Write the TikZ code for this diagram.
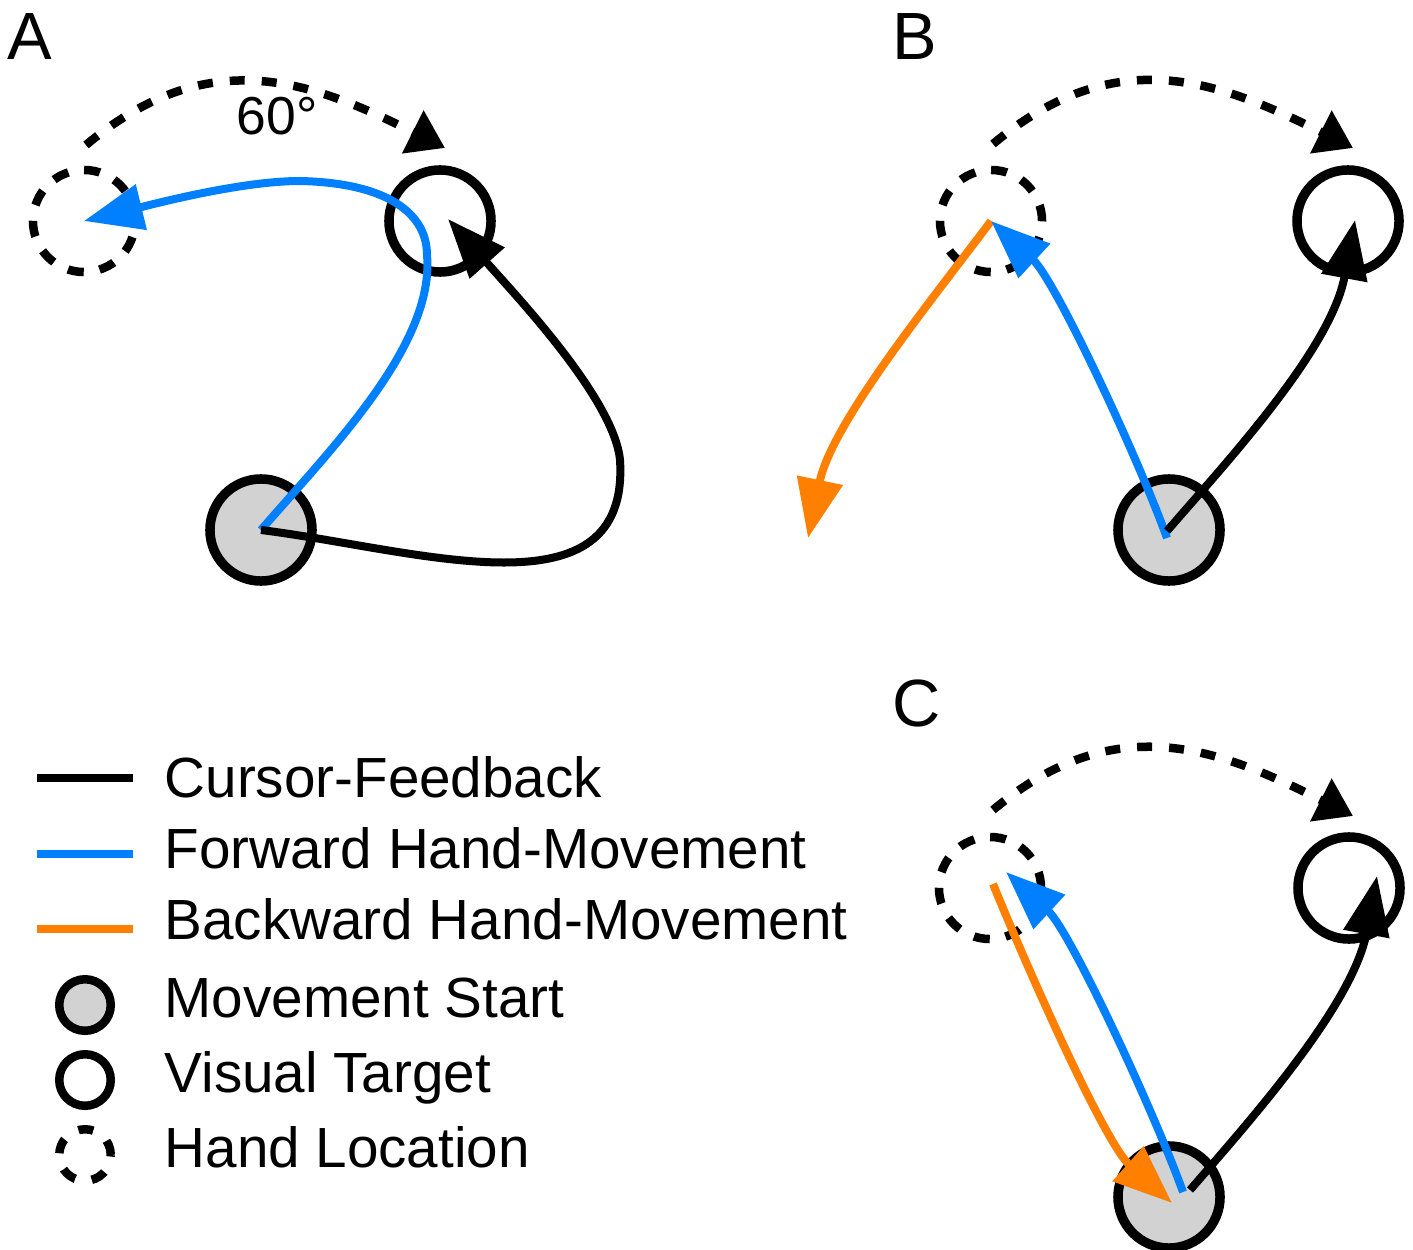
\documentclass[tikz,border=0pt]{standalone}
\usepackage{fontspec}
\setmainfont{Liberation Sans}
\usetikzlibrary{arrows.meta,calc}
\definecolor{fwdblue}{RGB}{0,128,255}
\definecolor{bwdorange}{RGB}{255,128,0}
\definecolor{startgray}{RGB}{210,210,210}
\begin{document}
\begin{tikzpicture}[x=0.01cm, y=-0.01cm,
  ring/.style={circle, draw=black, line width=0.095cm, minimum size=1.02cm, inner sep=0pt, outer sep=0pt},
  startpt/.style={ring, fill=startgray},
  targetpt/.style={ring},
  handpt/.style={ring, line width=0.085cm, dash pattern=on 0.16cm off 0.16cm},
  tipbig/.style={-{Triangle[length=0.59cm, width=0.45cm]}},
  cursor/.style={draw=black, line width=0.08cm, tipbig},
  fwd/.style={draw=fwdblue, line width=0.08cm, tipbig},
  bwd/.style={draw=bwdorange, line width=0.08cm, tipbig},
  rotarc/.style={draw=black, line width=0.085cm, dash pattern=on 0.15cm off 0.17cm,
    -{Triangle[length=0.36cm, width=0.46cm]}},
  panellabel/.style={font=\fontsize{19}{23}\selectfont, anchor=base west, inner sep=0pt},
  angletext/.style={font=\fontsize{15.2}{18}\selectfont, anchor=base west, inner sep=0pt},
  legtext/.style={font=\fontsize{16.1}{19}\selectfont, anchor=base west, inner sep=0pt},
  legline/.style={line width=0.085cm},
  legring/.style={circle, draw=black, line width=0.085cm, minimum size=0.515cm, inner sep=0pt}
]
\useasboundingbox (0,0) rectangle (1413,1249);

% ---------- Panel A: rotated feedback, hand curls back to the target ----------
\node[panellabel] (labA) at (7,60) {A};
\node[handpt]   (Ah) at (84,221) {};
\node[targetpt] (At) at (440,221) {};
\node[startpt]  (As) at (261,530) {};
\draw[rotarc] ($(Ah.center)+(2,-76)$) .. controls +(123,-103) and +(-134,-67) .. ($(At.center)+(5,-73)$);
\node[angletext] (angA) at (236,135) {60°};
\draw[fwd] (As.center) .. controls (330,450) and (435,345) .. (427,255)
  .. controls (427,215) and (390,183) .. (300,181)
  .. controls (240,181) and (150,205) .. (Ah.center);
\draw[cursor] (As.center) .. controls (420,550) and (630,620) .. (620,460)
  .. controls (614,400) and (520,300) .. ($(At.center)+(8,-2)$);

% ---------- Panel B: forward reach, then backward movement away ----------
\node[panellabel] (labB) at (892,60) {B};
\node[handpt]   (Bh) at (991,221) {};
\node[targetpt] (Bt) at (1348,221) {};
\node[startpt]  (Bs) at (1169,530) {};
\draw[rotarc] ($(Bh.center)+(2,-77)$) .. controls +(123,-103) and +(-134,-67) .. ($(Bt.center)+(5,-73)$);
\coordinate (Bend) at (808,538);
\draw[bwd] (Bh.center) .. controls +(-56,75) and +(24,-116) .. (Bend);
\draw[fwd] ($(Bs.center)+(-2,8)$) .. controls +(-30,-83) and +(64,59) .. (Bh.center);
\draw[cursor] ($(Bs.center)+(-2,1)$) .. controls +(57,-66) and +(-24,130) .. ($(Bt.center)+(7,-1)$);

% ---------- Panel C: forward reach, then return to the start ----------
\node[panellabel] (labC) at (892,726) {C};
\node[handpt]   (Ch) at (990,888) {};
\node[targetpt] (Ct) at (1349,888) {};
\node[startpt]  (Cs) at (1169,1197) {};
\draw[rotarc] ($(Ch.center)+(3,-78)$) .. controls +(123,-103) and +(-134,-67) .. ($(Ct.center)+(4,-72)$);
\draw[bwd] ($(Ch.center)+(3,-4)$) .. controls +(40,98) and +(-66,-59) .. ($(Cs.center)+(3,6)$);
\draw[fwd] ($(Cs.center)+(14,-5)$) .. controls +(-30,-83) and +(64,59) .. ($(Ch.center)+(16,-16)$);
\draw[cursor] ($(Cs.center)+(21,-7)$) .. controls +(57,-66) and +(-24,130) .. ($(Ct.center)+(28,-12)$);

% ---------- Legend ----------
\coordinate (k1a) at (37,778); \coordinate (k1b) at (133,778);
\coordinate (k2a) at (37,854); \coordinate (k2b) at (133,854);
\coordinate (k3a) at (37,929); \coordinate (k3b) at (133,929);
\draw[legline, black] (k1a) -- (k1b);
\draw[legline, fwdblue] (k2a) -- (k2b);
\draw[legline, bwdorange] (k3a) -- (k3b);
\node[legring, fill=startgray] (kS) at (85,1005) {};
\node[legring] (kT) at (85,1080) {};
\node[legring, dash pattern=on 0.15cm off 0.17cm] (kH) at (85,1155) {};
\node[legtext] (t1) at (164,797) {Cursor-Feedback};
\node[legtext] (t2) at (164,868) {Forward Hand-Movement};
\node[legtext] (t3) at (164,939) {Backward Hand-Movement};
\node[legtext] (t4) at (164,1017) {Movement Start};
\node[legtext] (t5) at (164,1092) {Visual Target};
\node[legtext] (t6) at (164,1167) {Hand Location};
\end{tikzpicture}
\end{document}
